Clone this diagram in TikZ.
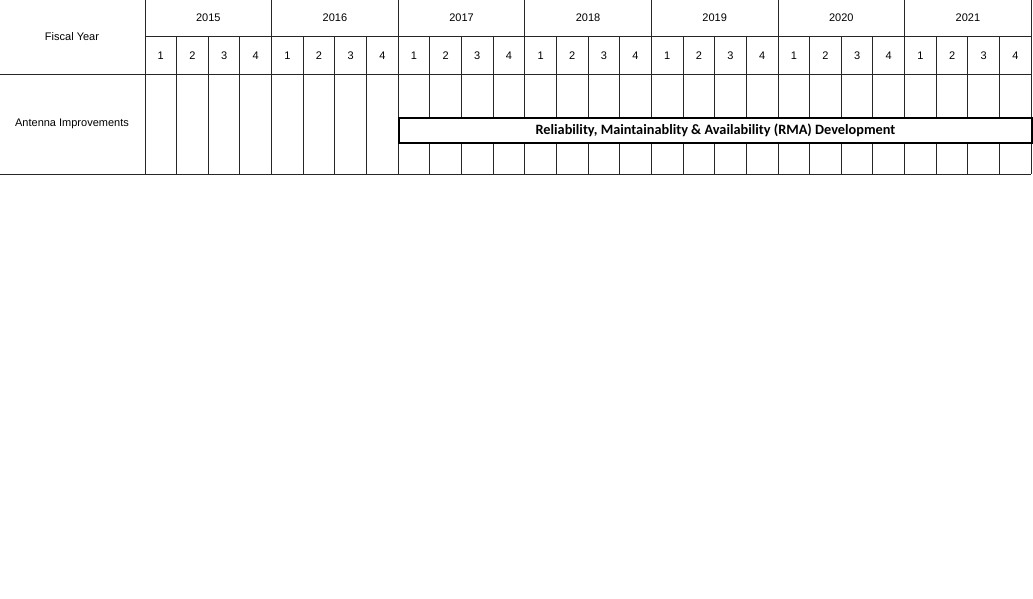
\documentclass[tikz,border=0pt]{standalone}
\usepackage{fontspec}
\setmainfont{Liberation Sans}
\newfontfamily\barfont{Carlito}

\begin{document}
\begin{tikzpicture}[x=1pt,y=-1pt,
  grid/.style={draw=black!85, line width=1pt},
  lbl/.style={font=\fontsize{11}{13}\selectfont, inner sep=0},
  rmabar/.style={draw=black, line width=1.8pt, fill=white, inner sep=0,
    font=\barfont\bfseries\fontsize{14.3}{16}\selectfont}]
\useasboundingbox (0,0) rectangle (1033,599);

% grid lines
\foreach \c in {0,...,28} {
 \pgfmathsetmacro\ytop{ifthenelse(mod(\c,4)==0,0,37)}
 \draw[grid] ({145+31.65*\c},\ytop) -- ({145+31.65*\c},174);
}
\draw[grid] (145,37) -- (1031,37);
\draw[grid] (0,75) -- (1031,75);
\draw[grid] (0,174) -- (1031,174);

% header
\node[lbl] (fy) at (72,37) {Fiscal Year};
\foreach \yr [count=\i from 0] in {2015,...,2021} {
 \node[lbl] (y\yr) at ({145+126.6*\i+63.3},18) {\yr};
 \foreach \q in {1,...,4}
  \node[lbl] (q\yr-\q) at ({145+126.6*\i+31.65*(\q-1)+15.8},56) {\q};
}

% task row
\node[lbl] (ant) at (72,124) {Antenna Improvements};
\node[rmabar, minimum width=633, minimum height=25, anchor=north west] (rma) at (398,117)
 {Reliability, Maintainablity \& Availability (RMA) Development};
\end{tikzpicture}
\end{document}
